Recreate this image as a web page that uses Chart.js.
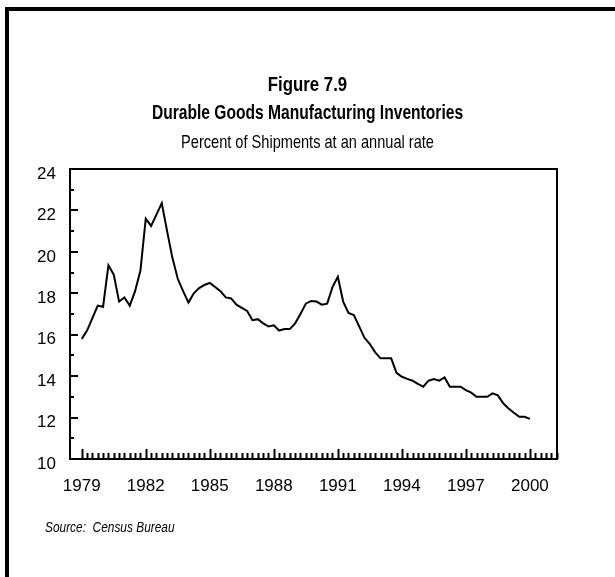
<!DOCTYPE html>
<html><head><meta charset="utf-8">
<script src="https://cdn.jsdelivr.net/npm/chart.js@4/dist/chart.umd.min.js"></script>
<style>
html,body{margin:0;padding:0;background:#fff;}
#wrap{position:relative;width:615px;height:577px;overflow:hidden;background:#fff;}
#frame{position:absolute;left:5px;top:7px;width:800px;height:800px;border-left:4px solid #000;border-top:4px solid #000;}
canvas{position:absolute;left:0;top:0;}
</style></head><body>
<div id="wrap"><div id="frame"></div><canvas id="c" width="615" height="577"></canvas></div>
<script>
const figureLabel = 'Figure 7.9';
const chartTitle = 'Durable Goods Manufacturing Inventories';
const chartSubtitle = 'Percent of Shipments at an annual rate';
const sourceNote = 'Source:  Census Bureau';

// Quarterly series, 1979 Q1 .. 2000 Q1
const startYear = 1979;
const quarterlyValues = [
  15.8, 16.2, 16.8, 17.4,      // 1979
  17.35, 19.35, 18.9, 17.6,    // 1980
  17.8, 17.4, 18.1, 19.1,      // 1981
  21.6, 21.25, 21.8, 22.35,    // 1982
  21.0, 19.7, 18.7, 18.1,      // 1983
  17.55, 18.0, 18.25, 18.4,    // 1984
  18.5, 18.3, 18.1, 17.8,      // 1985
  17.75, 17.45, 17.3, 17.15,   // 1986
  16.7, 16.75, 16.55, 16.4,    // 1987
  16.45, 16.2, 16.27, 16.27,   // 1988
  16.55, 17.0, 17.5, 17.63,    // 1989
  17.6, 17.45, 17.5, 18.3,     // 1990
  18.8, 17.6, 17.05, 16.95,    // 1991
  16.4, 15.85, 15.55, 15.15,   // 1992
  14.86, 14.86, 14.86, 14.16,  // 1993
  13.97, 13.87, 13.78, 13.63,  // 1994
  13.49, 13.78, 13.86, 13.78,  // 1995
  13.94, 13.49, 13.49, 13.49,  // 1996
  13.33, 13.2, 13.0, 13.0,     // 1997
  13.0, 13.17, 13.07, 12.69,   // 1998
  12.44, 12.23, 12.04, 12.04,  // 1999
  11.94                        // 2000
];
const xTickYears = [1979, 1982, 1985, 1988, 1991, 1994, 1997, 2000];
const yTickValues = [10, 12, 14, 16, 18, 20, 22, 24];

const points = quarterlyValues.map((v, i) => ({ x: startYear + i / 4, y: v }));

const tickFont = { family: "'Liberation Sans', Arial, sans-serif", size: 17 };

function narrowText(ctx, text, x, y, font, align, sx) {
  ctx.save();
  ctx.font = font;
  ctx.textAlign = align;
  ctx.textBaseline = 'alphabetic';
  ctx.translate(x, y);
  ctx.scale(sx, 1);
  ctx.fillText(text, 0, 0);
  ctx.restore();
}

const decorPlugin = {
  id: 'decor',
  afterDatasetsDraw(chart) {
    const ctx = chart.ctx;
    const a = chart.chartArea;
    const xs = chart.scales.x, ys = chart.scales.y;
    ctx.save();
    ctx.strokeStyle = '#000';
    ctx.lineWidth = 2;
    ctx.strokeRect(a.left, a.top, a.right - a.left, a.bottom - a.top);
    ctx.beginPath();
    for (let v = ys.min; v <= ys.max; v += 1) {
      const py = Math.round(ys.getPixelForValue(v));
      const len = yTickValues.includes(v) ? 8 : 4;
      ctx.moveTo(a.left, py); ctx.lineTo(a.left + len, py);
    }
    const first = xTickYears[0];
    for (let q = 0; first + q / 4 <= xs.max; q++) {
      const t = first + q / 4;
      const px = Math.round(xs.getPixelForValue(t)) + 0.5;
      const len = xTickYears.includes(t) ? 10 : 6;
      ctx.moveTo(px, a.bottom); ctx.lineTo(px, a.bottom - len);
    }
    ctx.stroke();
    ctx.restore();
  },
  afterDraw(chart) {
    const ctx = chart.ctx;
    const cx = chart.width / 2;
    ctx.fillStyle = '#000';
    const fam = "'Liberation Sans', Arial, sans-serif";
    narrowText(ctx, figureLabel, cx, 91, "bold 20px " + fam, 'center', 0.84);
    narrowText(ctx, chartTitle, cx, 119, "bold 20px " + fam, 'center', 0.78);
    narrowText(ctx, chartSubtitle, cx, 148, "17.8px " + fam, 'center', 0.82);
    narrowText(ctx, sourceNote, 45, 532, "italic 14.5px " + fam, 'left', 0.82);
  }
};

new Chart(document.getElementById('c'), {
  type: 'line',
  data: {
    datasets: [{
      data: points,
      borderColor: '#000',
      borderWidth: 2,
      pointRadius: 0,
      tension: 0,
      fill: false
    }]
  },
  options: {
    responsive: false,
    animation: false,
    events: [],
    layout: { padding: { left: 10, right: 58, top: 169, bottom: 78 } },
    plugins: { legend: { display: false }, tooltip: { enabled: false }, title: { display: false } },
    scales: {
      x: {
        type: 'linear',
        min: 1978.45,
        max: 2001.27,
        grid: { display: false },
        border: { display: false },
        afterBuildTicks: s => { s.ticks = xTickYears.map(v => ({ value: v })); },
        afterFit: s => { s.height = 40; },
        ticks: {
          autoSkip: false, maxRotation: 0, color: '#000', font: tickFont, padding: 9,
          callback: v => String(v)
        }
      },
      y: {
        min: 10,
        max: 24,
        grid: { display: false },
        border: { display: false },
        afterBuildTicks: s => { s.ticks = yTickValues.map(v => ({ value: v })); },
        afterFit: s => { s.width = 60; },
        ticks: { color: '#000', font: tickFont, padding: 6, labelOffset: 5, callback: v => String(v) }
      }
    }
  },
  plugins: [decorPlugin]
});
</script>
</body></html>
